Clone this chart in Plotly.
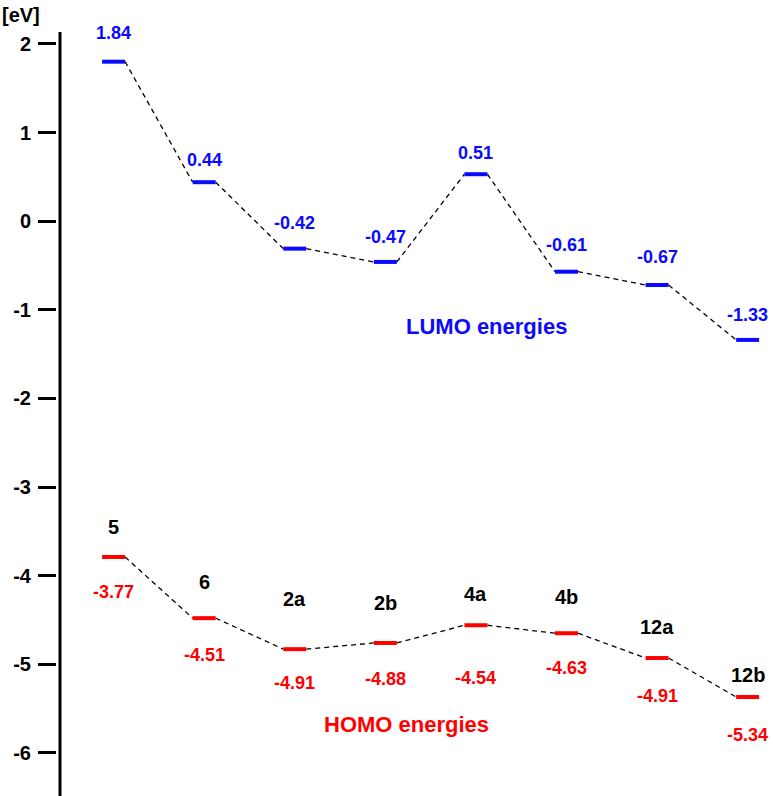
import plotly.graph_objects as go

compounds = ["5", "6", "2a", "2b", "4a", "4b", "12a", "12b"]
lumo_text = ["1.84", "0.44", "-0.42", "-0.47", "0.51", "-0.61", "-0.67", "-1.33"]
homo_text = ["-3.77", "-4.51", "-4.91", "-4.88", "-4.54", "-4.63", "-4.91", "-5.34"]
# level heights as drawn in the diagram
lumo_level = [1.80, 0.44, -0.31, -0.46, 0.53, -0.57, -0.72, -1.34]
homo_level = [-3.79, -4.48, -4.83, -4.76, -4.56, -4.65, -4.93, -5.37]

# label offsets (px)
lumo_shift = [29, 22, 26, 25, 21, 27, 28, 25]
homo_shift = [-35, -37, -34, -36, -53, -35, -38, -38]
name_shift = [30, 36, 50, 40, 31, 36, 31, 22]

HW = 0.127
BLUE = "#0a0aff"
RED = "#ff0000"
FONT = "Liberation Sans"

def level_xy(levels):
    xs, ys = [], []
    for i, v in enumerate(levels):
        xs += [i - HW, i + HW, None]
        ys += [v, v, None]
    return xs, ys

def conn_xy(levels):
    xs, ys = [], []
    for i in range(len(levels) - 1):
        xs += [i + HW, i + 1 - HW, None]
        ys += [levels[i], levels[i + 1], None]
    return xs, ys

fig = go.Figure()
for levels, col in [(lumo_level, BLUE), (homo_level, RED)]:
    cx, cy = conn_xy(levels)
    fig.add_trace(go.Scatter(x=cx, y=cy, mode="lines",
                             line=dict(color="black", width=1.3, dash="5px,4px"),
                             hoverinfo="skip", showlegend=False))
    lx, ly = level_xy(levels)
    fig.add_trace(go.Scatter(x=lx, y=ly, mode="lines",
                             line=dict(color=col, width=4),
                             hoverinfo="skip", showlegend=False))

ann = []
for i in range(len(compounds)):
    ann.append(dict(x=i, y=lumo_level[i], text=lumo_text[i], showarrow=False,
                    yshift=lumo_shift[i], xanchor="center", yanchor="middle",
                    font=dict(family=FONT, size=18, color=BLUE, weight="bold")))
    ann.append(dict(x=i, y=homo_level[i], text=homo_text[i], showarrow=False,
                    yshift=homo_shift[i], xanchor="center", yanchor="middle",
                    font=dict(family=FONT, size=18, color=RED, weight="bold")))
    ann.append(dict(x=i, y=homo_level[i], text=compounds[i], showarrow=False,
                    yshift=name_shift[i], xanchor="center", yanchor="middle",
                    font=dict(family=FONT, size=20, color="black", weight="bold")))

ann.append(dict(x=4.12, y=-1.183, text="LUMO energies", showarrow=False,
                xanchor="center", yanchor="middle",
                font=dict(family=FONT, size=22, color=BLUE, weight="bold")))
ann.append(dict(x=3.23, y=-5.675, text="HOMO energies", showarrow=False,
                xanchor="center", yanchor="middle",
                font=dict(family=FONT, size=22, color=RED, weight="bold")))
ann.append(dict(xref="paper", yref="paper", x=-57/716, y=1 + 17/764, text="[eV]",
                showarrow=False, xanchor="left", yanchor="middle",
                font=dict(family=FONT, size=20, color="black", weight="bold")))

fig.update_layout(
    width=773, height=796,
    margin=dict(l=57, r=0, t=32, b=0),
    plot_bgcolor="white", paper_bgcolor="white",
    annotations=ann,
    shapes=[dict(type="line", xref="paper", yref="paper",
                 x0=3/716, x1=3/716, y0=0, y1=1,
                 line=dict(color="black", width=3))],
    xaxis=dict(range=[-0.625, 7.280], visible=False, showgrid=False, zeroline=False),
    yaxis=dict(range=[-6.487, 2.135], tickmode="array",
               tickvals=[2, 1, 0, -1, -2, -3, -4, -5, -6],
               ticktext=["2", "1", "0", "-1", "-2", "-3", "-4", "-5", "-6"],
               ticks="outside", ticklen=18, tickwidth=3, tickcolor="black",
               ticklabelstandoff=3,
               showline=False, showgrid=False, zeroline=False,
               tickfont=dict(family=FONT, size=20, color="black", weight="bold")),
)

fig.write_html("out.html")
